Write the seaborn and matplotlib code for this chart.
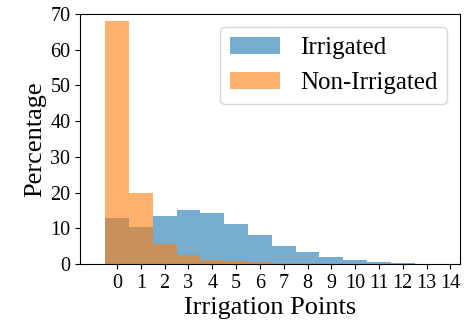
import numpy as np
import matplotlib
matplotlib.use('Agg')
import matplotlib.pyplot as plt
import seaborn as sns

# irrigation points per field and share of fields (%) in each group
points = np.arange(0, 15)
irrigated = [12.8, 10.3, 13.3, 15.1, 14.2, 11.2, 8.1, 5.1, 3.2, 2.0, 1.0, 0.4, 0.2, 0.1, 0.05]
non_irrigated = [68.0, 20.0, 5.5, 2.5, 1.2, 0.8, 0.5, 0.3, 0.2, 0.1, 0.05, 0.0, 0.0, 0.0, 0.0]

plt.rcParams['font.family'] = ['Liberation Serif', 'DejaVu Serif']

fig = plt.figure(figsize=(4.66, 3.29), dpi=100)
ax = fig.add_axes([0.172, 0.198, 0.815, 0.759])

sns.histplot(x=points, weights=irrigated, discrete=True, color='tab:blue',
             alpha=0.6, linewidth=0, label='Irrigated', ax=ax)
sns.histplot(x=points, weights=non_irrigated, discrete=True, color='tab:orange',
             alpha=0.6, linewidth=0, label='Non-Irrigated', ax=ax)

ax.set_xlim(-1.55, 14.4)
ax.set_ylim(0, 70)
ax.set_xticks(points)
ax.set_yticks(np.arange(0, 71, 10))
ax.tick_params(labelsize=14.5)
ax.set_xlabel('Irrigation Points', fontsize=19, labelpad=3)
ax.set_ylabel('Percentage', fontsize=19, labelpad=3)
ax.legend(loc='upper right', fontsize=18, handlelength=2.0)

plt.savefig('out.png', dpi=100)
plt.close()
